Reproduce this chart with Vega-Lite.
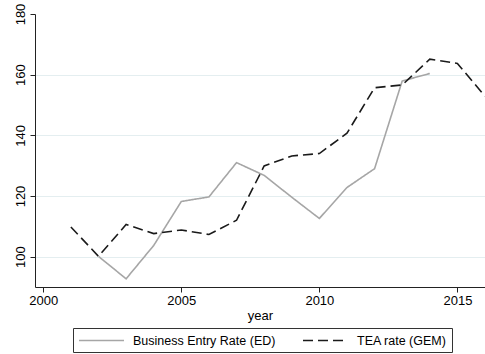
{
  "$schema": "https://vega.github.io/schema/vega-lite/v6.json",
  "width": 450,
  "height": 273,
  "autosize": {"type": "none"},
  "padding": {"left": 35, "top": 14, "right": 0, "bottom": 67},
  "background": "white",
  "data": {
    "values": [
      {"year": 2002, "series": "Business Entry Rate (ED)", "value": 100.1},
      {"year": 2003, "series": "Business Entry Rate (ED)", "value": 92.7},
      {"year": 2004, "series": "Business Entry Rate (ED)", "value": 103.7},
      {"year": 2005, "series": "Business Entry Rate (ED)", "value": 118.2},
      {"year": 2006, "series": "Business Entry Rate (ED)", "value": 119.7},
      {"year": 2007, "series": "Business Entry Rate (ED)", "value": 131.0},
      {"year": 2008, "series": "Business Entry Rate (ED)", "value": 126.8},
      {"year": 2009, "series": "Business Entry Rate (ED)", "value": 119.6},
      {"year": 2010, "series": "Business Entry Rate (ED)", "value": 112.6},
      {"year": 2011, "series": "Business Entry Rate (ED)", "value": 122.8},
      {"year": 2012, "series": "Business Entry Rate (ED)", "value": 129.0},
      {"year": 2013, "series": "Business Entry Rate (ED)", "value": 157.9},
      {"year": 2014, "series": "Business Entry Rate (ED)", "value": 160.4},
      {"year": 2001, "series": "TEA rate (GEM)", "value": 109.8},
      {"year": 2002, "series": "TEA rate (GEM)", "value": 100.1},
      {"year": 2003, "series": "TEA rate (GEM)", "value": 110.6},
      {"year": 2004, "series": "TEA rate (GEM)", "value": 107.6},
      {"year": 2005, "series": "TEA rate (GEM)", "value": 108.8},
      {"year": 2006, "series": "TEA rate (GEM)", "value": 107.3},
      {"year": 2007, "series": "TEA rate (GEM)", "value": 112.0},
      {"year": 2008, "series": "TEA rate (GEM)", "value": 129.9},
      {"year": 2009, "series": "TEA rate (GEM)", "value": 133.2},
      {"year": 2010, "series": "TEA rate (GEM)", "value": 134.0},
      {"year": 2011, "series": "TEA rate (GEM)", "value": 140.7},
      {"year": 2012, "series": "TEA rate (GEM)", "value": 155.7},
      {"year": 2013, "series": "TEA rate (GEM)", "value": 156.6},
      {"year": 2014, "series": "TEA rate (GEM)", "value": 165.1},
      {"year": 2015, "series": "TEA rate (GEM)", "value": 163.7},
      {"year": 2016, "series": "TEA rate (GEM)", "value": 152.9}
    ]
  },
  "mark": {"type": "line", "strokeWidth": 1.6, "clip": true},
  "encoding": {
    "x": {
      "field": "year",
      "type": "quantitative",
      "title": "year",
      "scale": {"domain": [1999.7, 2016], "nice": false, "zero": false},
      "axis": {
        "values": [2000, 2005, 2010, 2015],
        "format": "d",
        "grid": false,
        "tickSize": 5,
        "labelPadding": 2,
        "titlePadding": 2
      }
    },
    "y": {
      "field": "value",
      "type": "quantitative",
      "title": null,
      "scale": {"domain": [90, 180], "nice": false, "zero": false},
      "axis": {
        "values": [100, 120, 140, 160, 180],
        "labelAngle": -90,
        "labelAlign": "center",
        "labelBaseline": "bottom",
        "labelPadding": 3,
        "tickSize": 5,
        "grid": true,
        "gridColor": {"condition": {"test": "datum.value == 180", "value": "transparent"}, "value": "#e4eef0"},
        "gridWidth": 1
      }
    },
    "color": {
      "field": "series",
      "type": "nominal",
      "scale": {"domain": ["Business Entry Rate (ED)", "TEA rate (GEM)"], "range": ["#a6a6a6", "#1a1a1a"]},
      "legend": {
        "title": null,
        "orient": "none",
        "legendX": 38,
        "legendY": 314,
        "direction": "horizontal",
        "symbolType": "M-1,0H5.92",
        "symbolSize": 169,
        "symbolOffset": 0,
        "symbolStrokeWidth": 1.6,
        "labelFontSize": 12.5,
        "labelFont": "Liberation Sans",
        "labelColor": "black",
        "labelOffset": 40,
        "columnPadding": 23,
        "strokeColor": "#333333",
        "padding": 5
      }
    },
    "strokeDash": {
      "field": "series",
      "type": "nominal",
      "scale": {"domain": ["Business Entry Rate (ED)", "TEA rate (GEM)"], "range": [[1, 0], [10, 5]]},
      "legend": null
    }
  },
  "config": {
    "view": {"stroke": null},
    "axis": {
      "labelFont": "Liberation Sans",
      "titleFont": "Liberation Sans",
      "labelFontSize": 13,
      "titleFontSize": 13,
      "titleFontWeight": "normal",
      "labelColor": "black",
      "titleColor": "black",
      "domainColor": "#222222",
      "tickColor": "#222222"
    }
  }
}
